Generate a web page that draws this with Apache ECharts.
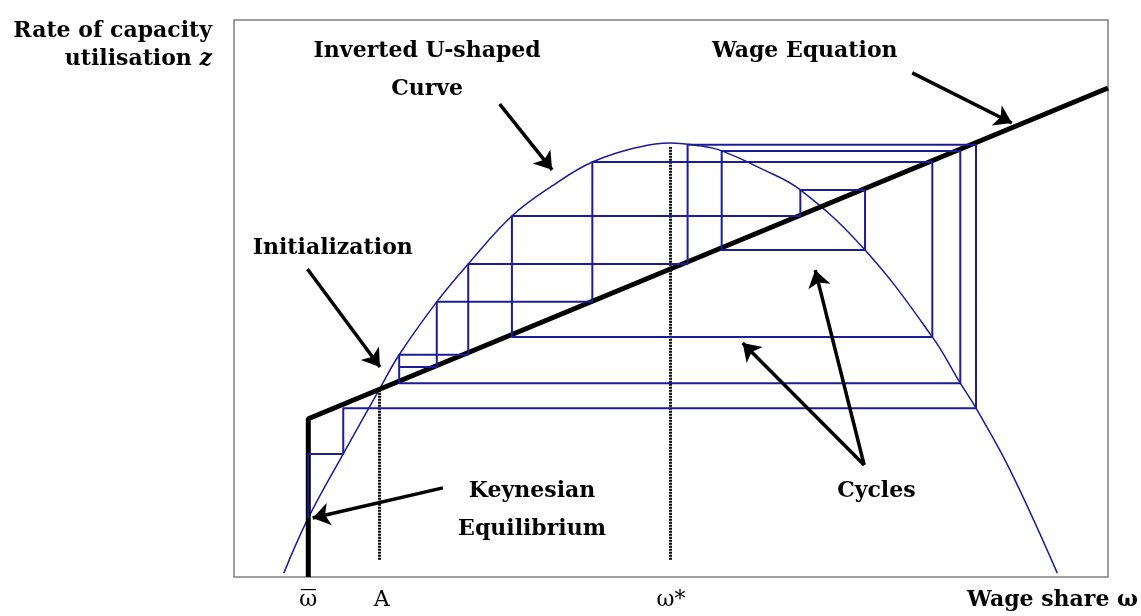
<!DOCTYPE html>
<html>
<head>
<meta charset="utf-8">
<script src="https://cdn.jsdelivr.net/npm/echarts@6/dist/echarts.min.js"></script>
<style>
  html, body { margin: 0; padding: 0; background: #fff; }
  #chart { width: 1141px; height: 616px; }
</style>
</head>
<body>
<div id="chart"></div>
<script>
// inverted U-shaped curve (wage share -> utilisation)
const curveX = [5.7, 8.5, 12.5, 16.6, 18.9, 23.2, 26.8, 31.8, 36.4, 41.0, 46.4, 49.9, 53.3, 55.8, 60.2, 64.8, 72.2, 79.9, 83.1, 84.9, 88.8, 94.2];
const curveY = [0.7, 10.6, 22.1, 33.6, 39.9, 49.4, 56.2, 64.8, 70.2, 74.5, 77.2, 77.9, 77.4, 76.5, 73.4, 69.5, 58.7, 43.1, 34.8, 30.3, 19.2, 0.7];

// wage equation: vertical at omega-bar then straight line
const wageX = [8.5, 8.5, 100];
const wageY = [0, 28.4, 87.8];

// cobweb trajectory corners, in drawing order
const cobwebX = [18.9, 23.2, 23.2, 41.0, 41.0, 79.9, 79.9, 31.8, 31.8, 64.8, 64.8, 72.2, 72.2, 55.8, 55.8, 83.1, 83.1, 18.9, 18.9, 26.8, 26.8, 51.9, 51.9, 84.9, 84.9, 12.5, 12.5, 8.5, 8.5];
const cobwebY = [37.7, 37.7, 49.4, 49.4, 74.5, 74.5, 43.1, 43.1, 64.8, 64.8, 69.5, 69.5, 58.7, 58.7, 76.5, 76.5, 34.8, 34.8, 39.9, 39.9, 56.2, 56.2, 77.6, 77.6, 30.3, 30.3, 22.1, 22.1, 10.6];

// dotted guides at A and omega*
const guideX = [16.6, 49.9];
const guideTop = [33.6, 77.2];
const guideBottom = 3.1;

// x tick labels (bar line marks omega-bar)
const tickValues = [8.5, 16.9, 50.0];
const tickLabels = ['\u03c9', 'A', '\u03c9*'];
const tickBars = ['_', ' ', ' '];

// annotations
const noteText = ['Inverted U-shaped', 'Curve', 'Wage Equation', 'Initialization', 'Keynesian', 'Equilibrium', 'Cycles'];
const noteX = [22.1, 22.1, 65.3, 11.3, 34.1, 34.1, 73.5];
const noteY = [94.3, 87.6, 94.3, 59.1, 15.3, 8.6, 15.3];

// arrows: [from, to]
const arrowFrom = [[30.4, 84.9], [8.4, 55.3], [77.6, 90.5], [23.9, 16.0], [72.1, 20.1], [72.1, 20.1]];
const arrowTo = [[36.4, 73.1], [16.7, 37.7], [89.0, 81.5], [9.0, 10.6], [58.2, 42.0], [66.5, 55.1]];

const BLUE = '#1c1c99';
const FONT = 'DejaVu Serif';

const chart = echarts.init(document.getElementById('chart'));

const zip = (xs, ys) => xs.map((x, i) => [x, ys[i]]);

chart.setOption({
  animation: false,
  grid: {
    left: 234, right: 33, top: 20, bottom: 39,
    show: true, borderColor: '#808080', borderWidth: 1.5,
    outerBoundsMode: 'none'
  },
  xAxis: {
    type: 'value', min: 0, max: 100,
    axisLine: { show: false },
    axisTick: { show: false },
    splitLine: { show: false },
    axisLabel: {
      customValues: tickValues,
      margin: -15,
      formatter: (v) => {
        const i = tickValues.indexOf(v);
        return i < 0 ? '' : '{o|' + tickBars[i] + '}\n{w|' + tickLabels[i] + '}';
      },
      rich: {
        o: { fontFamily: FONT, fontSize: 30, color: '#000', lineHeight: 26 },
        w: { fontFamily: FONT, fontSize: 22, color: '#000', lineHeight: 24 }
      }
    },
    name: 'Wage share \u03c9',
    nameLocation: 'end',
    nameGap: 30,
    nameMoveOverlap: false,
    nameTextStyle: {
      fontFamily: FONT, fontSize: 22, fontWeight: 'bold', color: '#000',
      align: 'right', verticalAlign: 'top', padding: [12, 0, 0, 0]
    }
  },
  yAxis: {
    type: 'value', min: 0, max: 100,
    axisLine: { show: false },
    axisTick: { show: false },
    splitLine: { show: false },
    axisLabel: { show: false },
    name: '{a|Rate of capacity}\n{a|utilisation }{i|z}',
    nameLocation: 'end',
    nameGap: 3,
    nameMoveOverlap: false,
    nameTextStyle: {
      align: 'right', verticalAlign: 'top', padding: [0, 22, 0, 0],
      lineHeight: 28,
      rich: {
        a: { fontFamily: FONT, fontSize: 22, fontWeight: 'bold', color: '#000', lineHeight: 28 },
        i: { fontFamily: FONT, fontSize: 22, fontWeight: 'bold', fontStyle: 'italic', color: '#000', lineHeight: 28 }
      }
    }
  },
  series: [
    {
      name: 'guides', type: 'lines', coordinateSystem: 'cartesian2d', silent: true,
      lineStyle: { color: '#000', width: 3, type: [2, 1], opacity: 1 },
      data: guideX.map((x, i) => ({ coords: [[x, guideBottom], [x, guideTop[i]]] })),
      z: 1
    },
    {
      name: 'curve', type: 'line', showSymbol: false, smooth: 0.4, silent: true,
      lineStyle: { color: BLUE, width: 1.5 },
      data: zip(curveX, curveY),
      z: 2
    },
    {
      name: 'wage', type: 'line', showSymbol: false, silent: true,
      lineStyle: { color: '#000', width: 5 },
      data: zip(wageX, wageY),
      z: 3
    },
    {
      name: 'cobweb', type: 'line', showSymbol: false, silent: true,
      lineStyle: { color: BLUE, width: 2 },
      data: zip(cobwebX, cobwebY),
      z: 4
    },
    {
      name: 'arrows', type: 'lines', coordinateSystem: 'cartesian2d', silent: true,
      symbol: ['none', 'arrow'], symbolSize: 17,
      lineStyle: { color: '#000', width: 3.5, opacity: 1 },
      itemStyle: { color: '#000' },
      data: arrowFrom.map((p, i) => ({ coords: [p, arrowTo[i]] })),
      z: 5
    },
    {
      name: 'notes', type: 'scatter', symbolSize: 0, silent: true,
      itemStyle: { opacity: 1 },
      label: {
        show: true, position: [0, 0], align: 'center', verticalAlign: 'middle',
        formatter: '{b}', textBorderWidth: 0, opacity: 1,
        fontFamily: FONT, fontSize: 22, fontWeight: 'bold', color: '#000'
      },
      data: noteText.map((t, i) => ({ name: t, value: [noteX[i], noteY[i]] })),
      z: 6
    }
  ]
});
</script>
</body>
</html>
